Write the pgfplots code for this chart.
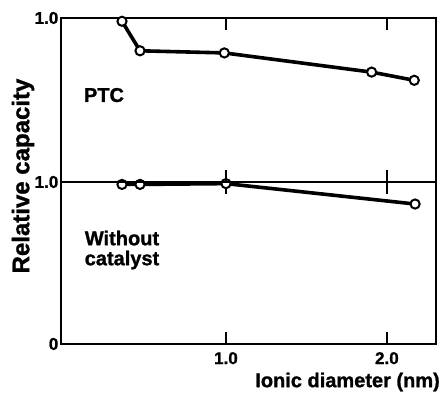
\documentclass[border=0pt]{standalone}
\usepackage{pgfplots}
\pgfplotsset{compat=1.18}
\usepackage{fontspec}
\setmainfont{Liberation Sans}
\newfontfamily\heavy{Liberation Sans Bold}[FakeBold=1.2]
\begin{document}
\begin{tikzpicture}[x=1pt,y=1pt]
\useasboundingbox (0,0) rectangle (440,395);
\pgfplotsset{
  panel/.style={
    scale only axis, width=375pt, xmin=-0.025, xmax=2.305, ymin=0, ymax=1,
    line width=2.4pt, axis line style={line width=2.4pt, black}, clip=false,
    xtick={1,2}, tick align=inside, xtick pos=both, ytick pos=left,
    major tick length=12pt,
    every tick/.style={black, line width=2.4pt},
    tick label style={font=\fontsize{17}{17}\selectfont\heavy},
    yticklabel style={inner sep=1.5pt},
    xticklabel style={inner sep=1pt, yshift=-6pt},
  },
  dat/.style={line width=3.6pt, black, mark=*, mark size=4.6pt,
      mark options={fill=white, draw=black, line width=2pt}},
}
\begin{axis}[panel, at={(61pt,51pt)}, anchor=south west, height=162pt,
  ytick={0,1}, yticklabels={0,1.0}, xticklabels={1.0,2.0}]
\addplot[dat] coordinates {(0.354,0.985) (0.466,0.985) (1.0,0.99) (2.175,0.864)};
\node[align=center, font=\fontsize{20}{20}\selectfont\heavy] at (axis cs:0.354,0.58) {Without\\catalyst};
\end{axis}
\begin{axis}[panel, at={(61pt,213pt)}, anchor=south west, height=164pt,
  ytick={1}, yticklabels={1.0}, xticklabels={}]
\addplot[dat] coordinates {(0.354,0.98) (0.466,0.80) (0.99,0.787) (1.905,0.67) (2.17,0.62)};
\node[font=\fontsize{20}{20}\selectfont\heavy] at (axis cs:0.242,0.53) {PTC};
\end{axis}
\node[rotate=90, font=\fontsize{24}{24}\selectfont\heavy] at (23,219) {Relative capacity};
\node[anchor=east, font=\fontsize{20}{20}\selectfont\heavy, inner sep=0pt] at (440,13) {Ionic diameter (nm)};
\end{tikzpicture}
\end{document}
